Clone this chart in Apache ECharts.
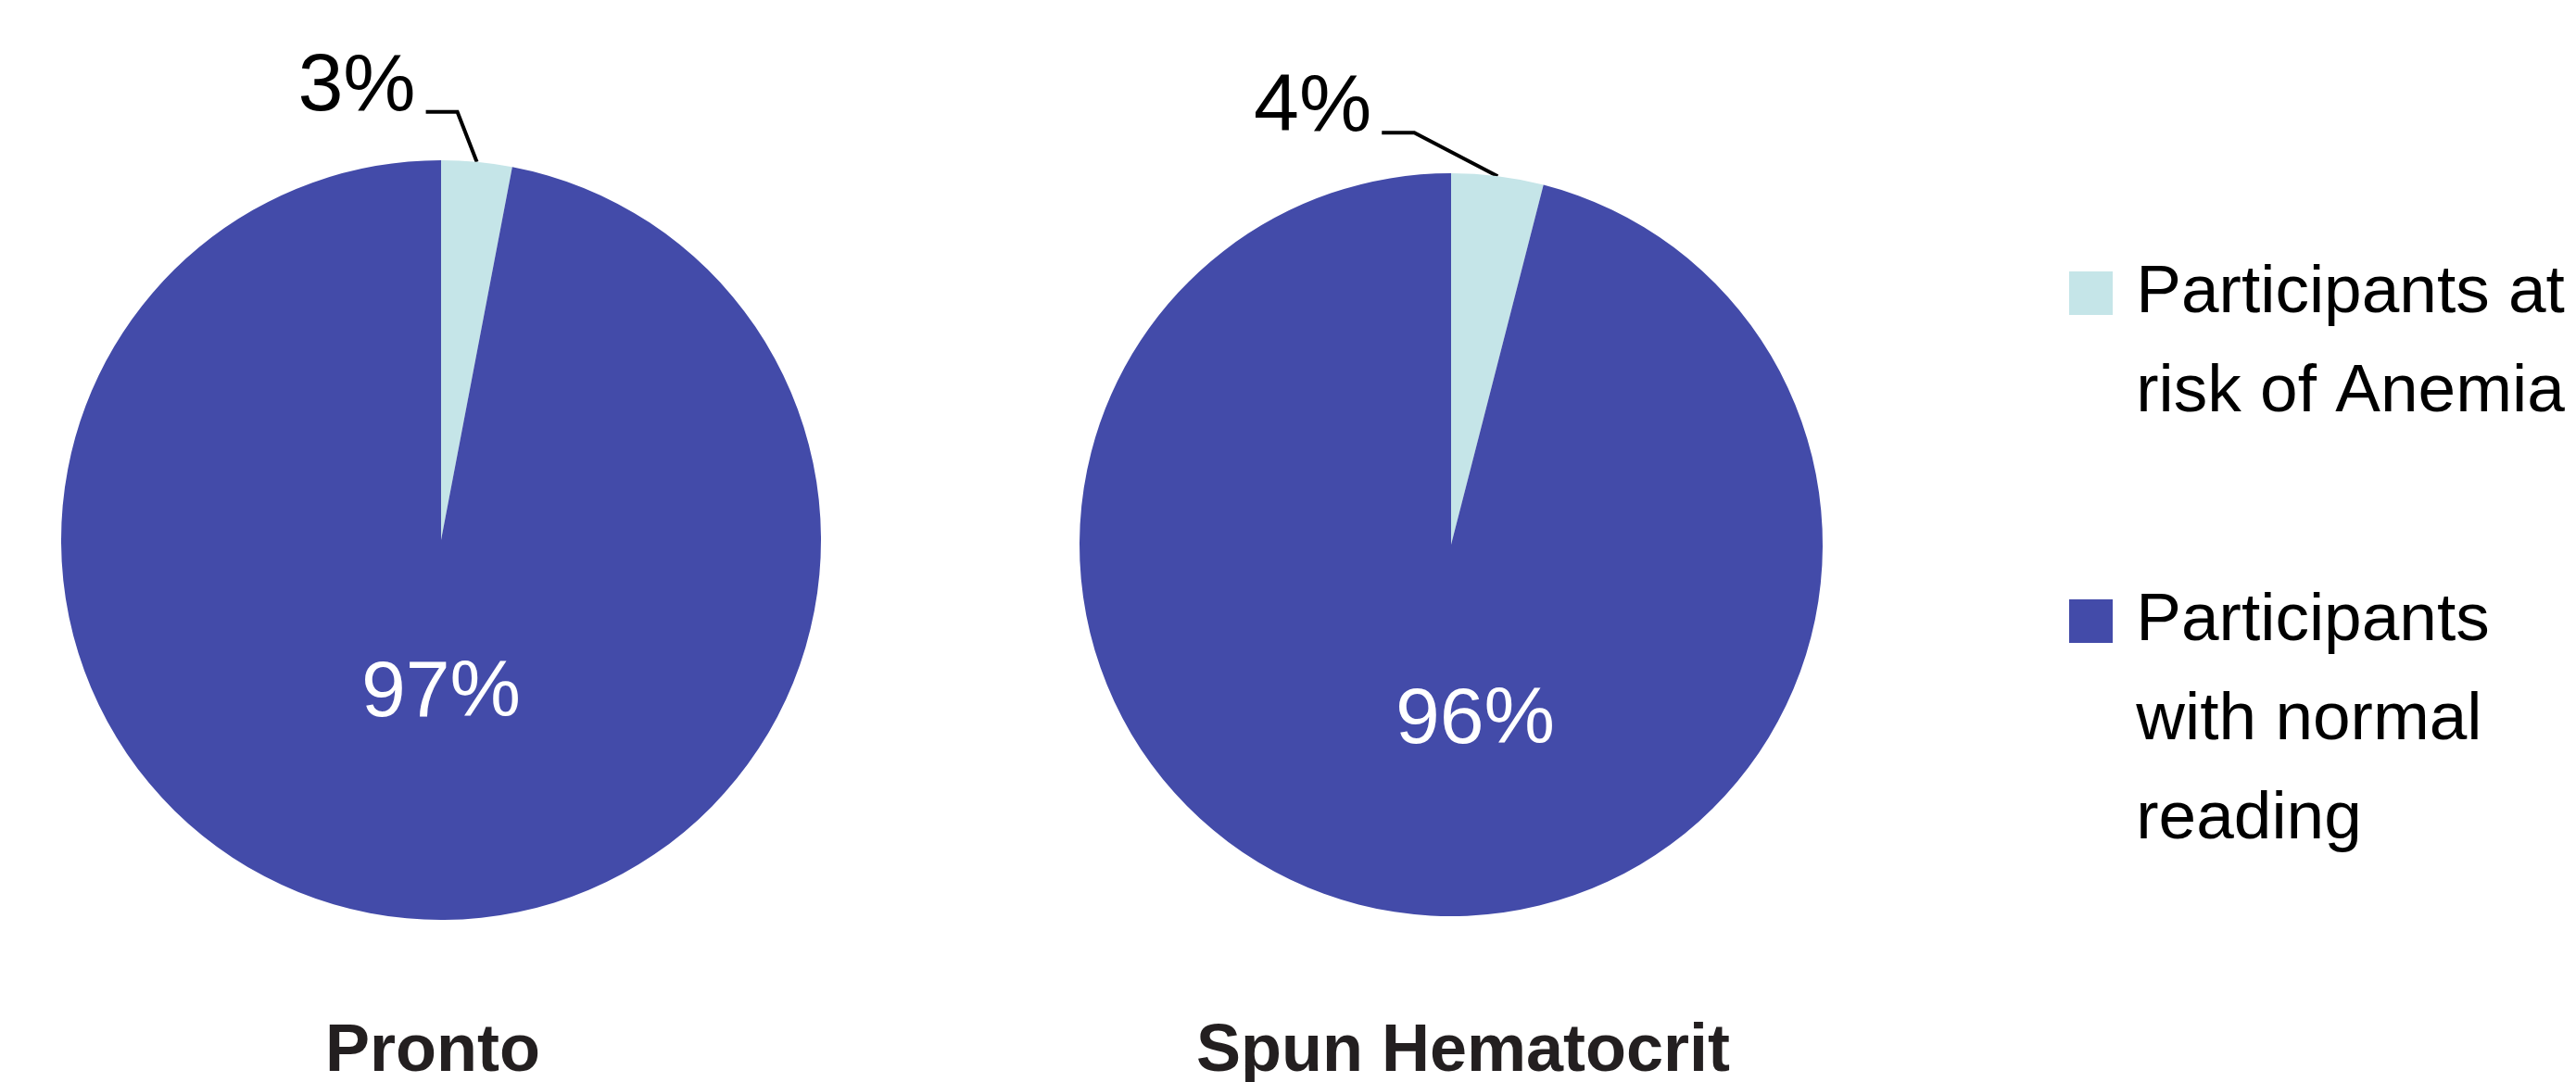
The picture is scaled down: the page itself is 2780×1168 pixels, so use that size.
<!DOCTYPE html>
<html><head><meta charset="utf-8">
<script src="https://cdn.jsdelivr.net/npm/echarts@6/dist/echarts.min.js"></script>
<style>html,body{margin:0;padding:0;background:#fff}#c{width:2780px;height:1168px}</style>
</head><body><div id="c"></div>
<script>
const categories = ['Participants at\nrisk of Anemia', 'Participants\nwith normal\nreading'];
const methods = ['Pronto', 'Spun Hematocrit'];
const prontoValues = [3, 97];
const spunValues = [4, 96];
const valueSets = [prontoValues, spunValues];
const colors = ['#C5E5E8', '#434BA9'];

const FONT = '"Liberation Sans", Arial, sans-serif';
const LABEL_SIZE = 88;
const INNER_SIZE = 86;
const LEGEND_SIZE = 73;
const LEGEND_LH = 107;

const pieStyles = [
  {center: [476, 583], radius: 410, elbow: [-21, -54], arm: -34, inner: [0, 166], title: [462, 1095]},
  {center: [1566, 588], radius: 401, elbow: [-90, -47], arm: -35, inner: [26, 190], title: [1574, 1095]}
];

function makeLayout(st) {
  return function (params) {
    if (params.dataIndex === 0) {
      const pts = params.labelLinePoints;
      if (!pts || !pts.length) return {};
      const p0 = pts[0];
      const p1 = [p0[0] + st.elbow[0], p0[1] + st.elbow[1]];
      const p2 = [p1[0] + st.arm, p1[1]];
      return {x: p2[0] - 11, y: p2[1] - Math.round(LABEL_SIZE * 0.29), align: 'right', verticalAlign: 'middle', labelLinePoints: [p0, p1, p2]};
    } else {
      const r = params.rect;
      return {x: r.x + r.width / 2 + st.inner[0], y: r.y + r.height / 2 + st.inner[1], align: 'center', verticalAlign: 'middle'};
    }
  };
}

// Leading blank lines so that the first text line sits level with the square icon.
function legendFormatter(name) {
  const lines = name.split('\n');
  const blanks = new Array(lines.length - 1).fill(' ');
  return blanks.concat(lines.map(s => ' ' + s)).join('\n');
}

const chart = echarts.init(document.getElementById('c'), null, {renderer: 'canvas'});

const legendBase = {
  orient: 'vertical', left: 2228, itemWidth: 47, itemHeight: 47, icon: 'rect', selectedMode: false,
  itemStyle: {borderWidth: 0}, formatter: legendFormatter,
  textStyle: {fontFamily: FONT, fontSize: LEGEND_SIZE, lineHeight: LEGEND_LH, color: '#000'}
};

chart.setOption({
  backgroundColor: '#ffffff',
  animation: false,
  title: methods.map((m, i) => ({
    text: m, left: pieStyles[i].title[0], top: pieStyles[i].title[1], textAlign: 'center',
    textStyle: {fontFamily: FONT, fontWeight: 'bold', fontSize: 72, color: '#231F20'}
  })),
  legend: [
    Object.assign({}, legendBase, {data: [categories[0]], top: 151}),
    Object.assign({}, legendBase, {data: [categories[1]], top: 398})
  ],
  series: pieStyles.map((st, i) => ({
    type: 'pie', name: methods[i], center: st.center, radius: st.radius,
    startAngle: 90, clockwise: true, avoidLabelOverlap: false,
    emphasis: {disabled: true},
    data: categories.map((name, k) => ({
      name: name,
      value: valueSets[i][k],
      itemStyle: {color: colors[k], borderWidth: 0},
      label: k === 0
        ? {show: true, position: 'outside', formatter: '{c}%', color: '#000', fontFamily: FONT, fontSize: LABEL_SIZE}
        : {show: true, position: 'inside', formatter: '{c}%', color: '#fff', fontFamily: FONT, fontSize: INNER_SIZE},
      labelLine: k === 0
        ? {show: true, length: 30, length2: 30, lineStyle: {color: '#000', width: 4}}
        : {show: false}
    })),
    labelLayout: makeLayout(st)
  }))
});
</script>
</body></html>
